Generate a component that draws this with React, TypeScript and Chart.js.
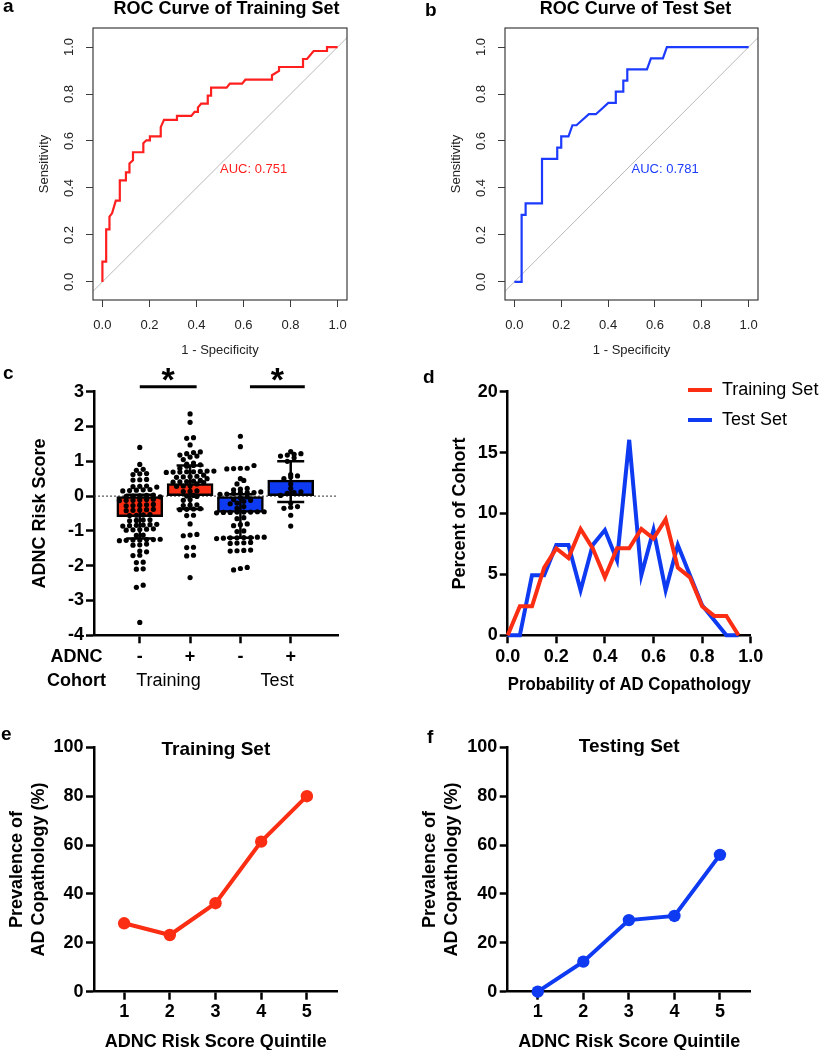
import React, { useEffect, useRef } from 'react';
import { Chart, registerables } from 'chart.js';

Chart.register(...registerables);

const FONT = "'Liberation Sans', Arial, Helvetica, sans-serif";
Chart.defaults.font.family = FONT;
Chart.defaults.color = '#000';

// ---------- colours ----------
const R_RED = '#ff1f1f';
const R_BLUE = '#1d3bff';
const P_RED = '#fb2d12';
const P_BLUE = '#0e3af2';
const R_GREY = '#3c3c3c';

// ---------- a / b : ROC curves ----------
const trainFpr = [0, 0, 0.016, 0.016, 0.03, 0.03, 0.041, 0.057, 0.074, 0.074, 0.1, 0.1, 0.115, 0.115, 0.13, 0.13, 0.174, 0.174, 0.187, 0.202, 0.202, 0.248, 0.248, 0.262, 0.317, 0.317, 0.378, 0.392, 0.406, 0.406, 0.42, 0.448, 0.448, 0.462, 0.462, 0.528, 0.542, 0.594, 0.608, 0.721, 0.721, 0.751, 0.751, 0.853, 0.853, 0.87, 0.898, 0.955, 0.955, 1.0];
const trainTpr = [0, 0.086, 0.086, 0.224, 0.224, 0.278, 0.292, 0.346, 0.346, 0.432, 0.432, 0.466, 0.466, 0.504, 0.518, 0.552, 0.552, 0.59, 0.603, 0.603, 0.62, 0.62, 0.659, 0.69, 0.69, 0.707, 0.707, 0.724, 0.724, 0.742, 0.759, 0.759, 0.793, 0.793, 0.827, 0.827, 0.844, 0.844, 0.861, 0.861, 0.88, 0.898, 0.915, 0.915, 0.949, 0.949, 0.983, 0.983, 1.0, 1.0];
const testFpr = [0, 0.031, 0.031, 0.048, 0.048, 0.118, 0.118, 0.183, 0.183, 0.2, 0.2, 0.231, 0.248, 0.265, 0.318, 0.348, 0.401, 0.433, 0.433, 0.465, 0.465, 0.482, 0.482, 0.566, 0.583, 0.634, 0.651, 1.0];
const testTpr = [0, 0, 0.285, 0.285, 0.334, 0.334, 0.524, 0.524, 0.572, 0.572, 0.62, 0.62, 0.667, 0.667, 0.714, 0.714, 0.762, 0.762, 0.81, 0.81, 0.857, 0.857, 0.905, 0.905, 0.952, 0.952, 1.0, 1.0];
const chanceLine = [-0.2, 1.2];
const rocTicks = [0, 0.2, 0.4, 0.6, 0.8, 1.0];
const aucTrain = '0.751';
const aucTest = '0.781';

// ---------- c : risk score by group ----------
const adncLabels = ['-', '+', '-', '+'];
const cohortNames = ['Training', 'Test'];
const groupMeans = [-0.59, 0.36, -0.47, 0.46];
const groupSdLow = [-1.22, -0.37, -1.2, -0.17];
const groupSdHigh = [0.04, 0.88, 0.05, 1.0];
const trainNeg = [1.4, 0.91, 0.77, 0.74, 0.65, 0.62, 0.64, 0.48, 0.46, 0.47, 0.28, 0.26, 0.27, 0.29, 0.17, 0.16, 0.18, 0.15, 0.19, 0.02, 0.0, 0.01, -0.02, 0.03, -0.01, -0.1, -0.12, -0.11, -0.13, -0.09, -0.12, -0.26, -0.25, -0.27, -0.24, -0.28, -0.4, -0.41, -0.39, -0.42, -0.38, -0.55, -0.54, -0.56, -0.53, -0.69, -0.7, -0.68, -0.71, -0.83, -0.84, -0.82, -0.85, -0.81, -0.86, -0.96, -0.97, -0.95, -0.98, -0.94, -1.13, -1.12, -1.25, -1.26, -1.27, -1.24, -1.28, -1.25, -1.26, -1.38, -1.4, -1.41, -1.58, -1.6, -1.7, -1.71, -1.9, -1.91, -2.1, -2.09, -2.56, -2.62, -3.63];
const trainPos = [2.36, 2.12, 1.68, 1.66, 1.47, 1.27, 1.25, 1.22, 1.18, 1.15, 1.12, 1.05, 0.95, 0.92, 0.9, 0.88, 0.86, 0.8, 0.72, 0.71, 0.7, 0.69, 0.68, 0.7, 0.72, 0.69, 0.6, 0.57, 0.55, 0.56, 0.54, 0.5, 0.45, 0.42, 0.41, 0.4, 0.43, 0.39, 0.35, 0.3, 0.28, 0.29, 0.15, 0.13, 0.14, 0.02, 0.0, -0.01, -0.12, -0.1, -0.25, -0.27, -0.26, -0.38, -0.37, -0.36, -0.39, -0.55, -0.56, -0.8, -1.1, -1.12, -1.14, -1.47, -1.48, -1.7, -1.72, -2.34];
const testNeg = [1.72, 1.42, 0.88, 0.8, 0.79, 0.78, 0.8, 0.5, 0.45, 0.35, 0.2, 0.18, 0.22, 0.1, 0.1, 0.08, 0.12, 0.05, 0.06, 0.1, -0.02, -0.05, -0.1, -0.12, -0.15, -0.2, -0.22, -0.3, -0.35, -0.45, -0.46, -0.47, -0.46, -0.45, -0.47, -0.48, -0.46, -0.62, -0.65, -0.82, -0.85, -0.8, -1.0, -1.02, -1.18, -1.2, -1.19, -1.21, -1.2, -1.18, -1.22, -1.19, -1.35, -1.33, -1.36, -1.34, -1.56, -1.55, -1.57, -1.58, -2.05, -2.08, -2.12];
const testPos = [1.28, 1.22, 1.18, 1.15, 1.2, 1.1, 1.0, 0.62, 0.58, 0.55, 0.5, 0.35, 0.22, 0.12, 0.1, 0.08, 0.02, -0.2, -0.3, -0.32, -0.35, -0.55, -0.86];
const riskTicks = [-4, -3, -2, -1, 0, 1, 2, 3];
const sigPairs = [[1.0, 2.13], [3.19, 4.28]];
const sigLevel = 3.14;
const cohortPos = [1.57, 3.73];

// ---------- d : probability distribution ----------
const probBins = [0, 0.05, 0.1, 0.15, 0.2, 0.25, 0.3, 0.35, 0.4, 0.45, 0.5, 0.55, 0.6, 0.65, 0.7, 0.75, 0.8, 0.85, 0.9, 0.95];
const trainPct = [0, 2.38, 2.38, 5.56, 7.14, 6.35, 8.73, 7.14, 4.76, 7.14, 7.14, 8.73, 7.94, 9.52, 5.56, 4.76, 2.38, 1.59, 1.59, 0];
const testPct = [0, 0, 4.94, 4.94, 7.41, 7.41, 3.7, 7.41, 8.64, 6.17, 16.05, 4.94, 8.64, 3.7, 7.41, 4.94, 2.47, 1.23, 0, 0];
const probTicks = [0, 0.2, 0.4, 0.6, 0.8, 1.0];
const pctTicks = [0, 5, 10, 15, 20];

// ---------- e / f : prevalence by quintile ----------
const quintiles = [1, 2, 3, 4, 5];
const trainPrev = [28, 23.2, 36.2, 61.4, 80];
const testPrev = [0, 12.3, 29.3, 31, 56];
const prevTicks = [0, 20, 40, 60, 80, 100];

// ---------- layout ----------
type Area = { left: number; top: number; right: number; bottom: number };
type Panel = { x: number; y: number; w: number; h: number; area: Area };

const panels: Panel[] = [
  { x: 0, y: 0, w: 410, h: 360, area: { left: 93, top: 28, right: 347, bottom: 300 } },
  { x: 410, y: 0, w: 410, h: 360, area: { left: 95, top: 28, right: 348, bottom: 300 } },
  { x: 0, y: 340, w: 410, h: 360, area: { left: 94, top: 51.7, right: 338, bottom: 295.3 } },
  { x: 410, y: 340, w: 410, h: 360, area: { left: 97.7, top: 51.7, right: 340.7, bottom: 295.3 } },
  { x: 0, y: 690, w: 410, h: 365, area: { left: 94, top: 57.3, right: 337.7, bottom: 301.7 } },
  { x: 410, y: 690, w: 410, h: 365, area: { left: 97.7, top: 57.3, right: 340.7, bottom: 301.7 } },
];

const bold = (px: number) => `bold ${px}px ${FONT}`;
const plain = (px: number) => `${px}px ${FONT}`;

function drawText(ctx: CanvasRenderingContext2D, s: string, x: number, y: number, font: string,
  color = '#000', align: CanvasTextAlign = 'left', baseline: CanvasTextBaseline = 'alphabetic') {
  ctx.save();
  ctx.font = font;
  ctx.fillStyle = color;
  ctx.textAlign = align;
  ctx.textBaseline = baseline;
  ctx.fillText(s, x, y);
  ctx.restore();
}

const setTicks = (vals: number[]) => (s: any) => { s.ticks = vals.map((value) => ({ value })); };
const fixWidth = (w: number) => (s: any) => {
  s.width = w; s.paddingLeft = 0; s.paddingRight = 0; s.paddingTop = 0; s.paddingBottom = 0;
};
const fixHeight = (h: number) => (s: any) => {
  s.height = h; s.paddingLeft = 0; s.paddingRight = 0; s.paddingTop = 0; s.paddingBottom = 0;
};

function baseOptions(p: Panel) {
  return {
    responsive: false,
    animation: false,
    devicePixelRatio: 1,
    events: [],
    layout: { padding: { left: 0, top: p.area.top, right: p.w - p.area.right, bottom: 0 } },
    plugins: { legend: { display: false }, tooltip: { enabled: false }, title: { display: false } },
  };
}

function pts(xs: number[], ys: number[]) {
  return xs.map((x, i) => ({ x, y: ys[i] }));
}

function swarm(values: number[], center: number, rowTol: number, colStep: number) {
  const sorted = [...values].sort((a, b) => a - b);
  const rows: number[][] = [];
  for (const v of sorted) {
    const cur = rows[rows.length - 1];
    if (cur && v - cur[0] < rowTol) cur.push(v);
    else rows.push([v]);
  }
  const out: { x: number; y: number }[] = [];
  rows.forEach((row) => row.forEach((v, i) => out.push({ x: center + (i - (row.length - 1) / 2) * colStep, y: v })));
  return out;
}

// ---------- a / b ----------
function rocConfig(p: Panel, fpr: number[], tpr: number[], color: string, title: string, auc: string,
  letter: string, letterX: number, letterY: number, titleX: number, yTitlePad: number) {
  const tickStyle = { display: true, drawOnChartArea: false, drawTicks: true, tickLength: 7, tickWidth: 1, tickColor: R_GREY };
  return {
    type: 'line',
    data: {
      datasets: [
        { data: pts(chanceLine, chanceLine), borderColor: '#b9b9b9', borderWidth: 1, pointRadius: 0, order: 2 },
        { data: pts(fpr, tpr), borderColor: color, borderWidth: 2.2, pointRadius: 0, tension: 0, order: 1 },
      ],
    },
    options: {
      ...baseOptions(p),
      scales: {
        x: {
          type: 'linear', min: -0.04, max: 1.04,
          afterBuildTicks: setTicks(rocTicks), afterFit: fixHeight(p.h - p.area.bottom),
          grid: tickStyle, border: { display: false },
          ticks: { font: { size: 13 }, color: '#222', padding: 10.5, autoSkip: false, maxRotation: 0, callback: (v: any) => Number(v).toFixed(1) },
          title: { display: true, text: '1 - Specificity', font: { size: 13 }, color: '#222', padding: { top: 0, bottom: 2.2 } },
        },
        y: {
          type: 'linear', min: -0.077, max: 1.081,
          afterBuildTicks: setTicks(rocTicks), afterFit: fixWidth(p.area.left),
          grid: tickStyle, border: { display: false },
          ticks: { font: { size: 13 }, color: '#222', padding: 8, minRotation: 90, maxRotation: 90, crossAlign: 'center', autoSkip: false, callback: (v: any) => Number(v).toFixed(1) },
          title: { display: true, text: 'Sensitivity', font: { size: 13 }, color: '#222', padding: { top: yTitlePad, bottom: 0 } },
        },
      },
    },
    plugins: [{
      id: 'rocDecor',
      afterDraw(chart: any) {
        const { ctx, chartArea: a, scales } = chart;
        ctx.save();
        ctx.strokeStyle = R_GREY;
        ctx.lineWidth = 1.2;
        ctx.strokeRect(a.left, a.top, a.right - a.left, a.bottom - a.top);
        ctx.restore();
        drawText(ctx, title, titleX, 9, bold(18), '#000', 'center', 'middle');
        drawText(ctx, letter, letterX, letterY, bold(19));
        drawText(ctx, 'AUC: ' + auc, scales.x.getPixelForValue(0.5), scales.y.getPixelForValue(0.477), plain(13), color, 'left', 'middle');
      },
    }],
  };
}

// ---------- c ----------
function groupConfig(p: Panel) {
  const xMin = 0.09, xMax = 4.94;
  const pxPerX = (p.area.right - p.area.left) / (xMax - xMin);
  const pxPerY = (p.area.bottom - p.area.top) / 7;
  const colStep = 6.8 / pxPerX;
  const rowTol = 4 / pxPerY;
  const groups = [trainNeg, trainPos, testNeg, testPos];
  const dots = groups.flatMap((g, i) => swarm(g, i + 1, rowTol, colStep));
  const axisGrid = { display: true, drawOnChartArea: false, drawTicks: true, tickLength: 8, tickWidth: 2.5, tickColor: '#000', offset: false };
  return {
    type: 'bar',
    data: {
      datasets: [
        {
          type: 'bar', data: pts([1, 2, 3, 4], groupMeans),
          backgroundColor: [P_RED, P_RED, P_BLUE, P_BLUE], borderColor: '#000', borderWidth: 2.5,
          borderSkipped: false, barThickness: 46, order: 3,
        },
        { type: 'scatter', data: dots, pointRadius: 2.6, pointBackgroundColor: '#000', pointBorderWidth: 0, order: 1, clip: false },
      ],
    },
    options: {
      ...baseOptions(p),
      scales: {
        x: {
          type: 'linear', min: xMin, max: xMax, offset: false,
          afterBuildTicks: setTicks([1, 2, 3, 4]), afterFit: fixHeight(p.h - p.area.bottom),
          grid: axisGrid, border: { display: true, width: 2.5, color: '#000' },
          ticks: { font: { size: 18, weight: 'bold' }, color: '#000', padding: 3, autoSkip: false, maxRotation: 0, callback: (v: any) => adncLabels[Math.round(v) - 1] },
        },
        y: {
          type: 'linear', min: -4, max: 3,
          afterBuildTicks: setTicks(riskTicks), afterFit: fixWidth(p.area.left),
          grid: axisGrid, border: { display: true, width: 2.5, color: '#000' },
          ticks: { font: { size: 18, weight: 'bold' }, color: '#000', padding: 2, autoSkip: false },
          title: { display: true, text: 'ADNC Risk Score', font: { size: 18, weight: 'bold' }, color: '#000', padding: { top: 29, bottom: 0 } },
        },
      },
    },
    plugins: [{
      id: 'groupDecor',
      beforeDatasetsDraw(chart: any) {
        const { ctx, chartArea: a, scales } = chart;
        const y0 = scales.y.getPixelForValue(0);
        ctx.save();
        ctx.strokeStyle = '#333';
        ctx.lineWidth = 1;
        ctx.setLineDash([2, 2]);
        ctx.beginPath();
        ctx.moveTo(a.left, y0);
        ctx.lineTo(a.right, y0);
        ctx.stroke();
        ctx.restore();
      },
      afterDatasetsDraw(chart: any) {
        const { ctx, scales } = chart;
        ctx.save();
        ctx.strokeStyle = '#000';
        ctx.lineWidth = 2.5;
        groupMeans.forEach((_, i) => {
          const x = scales.x.getPixelForValue(i + 1);
          const yl = scales.y.getPixelForValue(groupSdLow[i]);
          const yh = scales.y.getPixelForValue(groupSdHigh[i]);
          ctx.beginPath();
          ctx.moveTo(x, yl); ctx.lineTo(x, yh);
          ctx.moveTo(x - 13.5, yl); ctx.lineTo(x + 13.5, yl);
          ctx.moveTo(x - 13.5, yh); ctx.lineTo(x + 13.5, yh);
          ctx.stroke();
        });
        ctx.restore();
      },
      afterDraw(chart: any) {
        const { ctx, scales } = chart;
        const ys = scales.y.getPixelForValue(sigLevel);
        ctx.save();
        ctx.strokeStyle = '#000';
        ctx.lineWidth = 3;
        sigPairs.forEach(([x1, x2]) => {
          const px1 = scales.x.getPixelForValue(x1);
          const px2 = scales.x.getPixelForValue(x2);
          ctx.beginPath(); ctx.moveTo(px1, ys); ctx.lineTo(px2, ys); ctx.stroke();
          drawText(ctx, '*', (px1 + px2) / 2, ys + 4, bold(34), '#000', 'center', 'alphabetic');
        });
        ctx.restore();
        drawText(ctx, 'c', 3, 39, bold(19));
        drawText(ctx, 'ADNC', 76.5, 317, bold(18), '#000', 'center', 'middle');
        drawText(ctx, 'Cohort', 76.5, 341, bold(18), '#000', 'center', 'middle');
        cohortNames.forEach((n, i) => drawText(ctx, n, scales.x.getPixelForValue(cohortPos[i]), 341, plain(18), '#000', 'center', 'middle'));
      },
    }],
  };
}

// ---------- d ----------
function distConfig(p: Panel) {
  const axisGrid = { display: true, drawOnChartArea: false, drawTicks: true, tickLength: 8, tickWidth: 2.5, tickColor: '#000' };
  return {
    type: 'line',
    data: {
      datasets: [
        { label: 'Training Set', data: pts(probBins, trainPct), borderColor: P_RED, borderWidth: 4, pointRadius: 0, tension: 0, order: 0, clip: false },
        { label: 'Test Set', data: pts(probBins, testPct), borderColor: P_BLUE, borderWidth: 4, pointRadius: 0, tension: 0, order: 1, clip: false },
      ],
    },
    options: {
      ...baseOptions(p),
      scales: {
        x: {
          type: 'linear', min: 0, max: 1,
          afterBuildTicks: setTicks(probTicks), afterFit: fixHeight(p.h - p.area.bottom),
          grid: axisGrid, border: { display: true, width: 2.5, color: '#000' },
          ticks: { font: { size: 18, weight: 'bold' }, color: '#000', padding: 3, autoSkip: false, maxRotation: 0, callback: (v: any) => Number(v).toFixed(1) },
          title: { display: true, text: 'Probability of AD Copathology', font: { size: 18, weight: 'bold' }, color: '#000', padding: { top: 0, bottom: 4.2 } },
        },
        y: {
          type: 'linear', min: 0, max: 20,
          afterBuildTicks: setTicks(pctTicks), afterFit: fixWidth(p.area.left),
          grid: axisGrid, border: { display: true, width: 2.5, color: '#000' },
          ticks: { font: { size: 18, weight: 'bold' }, color: '#000', padding: 2, autoSkip: false },
          title: { display: true, text: 'Percent of Cohort', font: { size: 18, weight: 'bold' }, color: '#000', padding: { top: 39.7, bottom: 0 } },
        },
      },
    },
    plugins: [{
      id: 'distDecor',
      afterDraw(chart: any) {
        const { ctx } = chart;
        drawText(ctx, 'd', 13, 43, bold(19));
        const items = chart.data.datasets;
        items.forEach((ds: any, i: number) => {
          const y = 50 + i * 30;
          ctx.save();
          ctx.strokeStyle = ds.borderColor;
          ctx.lineWidth = 4;
          ctx.beginPath(); ctx.moveTo(278, y); ctx.lineTo(302, y); ctx.stroke();
          ctx.restore();
          drawText(ctx, ds.label, 312, y, plain(18), '#000', 'left', 'middle');
        });
      },
    }],
  };
}

// ---------- e / f ----------
function prevConfig(p: Panel, values: number[], color: string, title: string, titleY: number,
  letter: string, letterX: number, letterY: number, yTitlePad: number) {
  const axisGrid = { display: true, drawOnChartArea: false, drawTicks: true, tickLength: 8, tickWidth: 2.5, tickColor: '#000' };
  return {
    type: 'line',
    data: {
      datasets: [{
        data: pts(quintiles, values), borderColor: color, borderWidth: 4, pointRadius: 6.2,
        pointBackgroundColor: color, pointBorderWidth: 0, tension: 0, clip: false,
      }],
    },
    options: {
      ...baseOptions(p),
      scales: {
        x: {
          type: 'linear', min: 0.34, max: 5.675,
          afterBuildTicks: setTicks(quintiles), afterFit: fixHeight(p.h - p.area.bottom),
          grid: axisGrid, border: { display: true, width: 2.5, color: '#000' },
          ticks: { font: { size: 18, weight: 'bold' }, color: '#000', padding: 1.5, autoSkip: false, maxRotation: 0 },
          title: { display: true, text: 'ADNC Risk Score Quintile', font: { size: 18, weight: 'bold' }, color: '#000', padding: { top: 0, bottom: 2.5 } },
        },
        y: {
          type: 'linear', min: 0, max: 100,
          afterBuildTicks: setTicks(prevTicks), afterFit: fixWidth(p.area.left),
          grid: axisGrid, border: { display: true, width: 2.5, color: '#000' },
          ticks: { font: { size: 18, weight: 'bold' }, color: '#000', padding: 2.5, autoSkip: false },
          title: { display: true, text: ['Prevalence of', 'AD Copathology (%)'], font: { size: 18, weight: 'bold' }, color: '#000', padding: { top: yTitlePad, bottom: 0 } },
        },
      },
    },
    plugins: [{
      id: 'prevDecor',
      afterDraw(chart: any) {
        const { ctx, chartArea: a } = chart;
        drawText(ctx, letter, letterX, letterY, bold(19));
        drawText(ctx, title, (a.left + a.right) / 2, titleY, bold(19), '#000', 'center', 'middle');
      },
    }],
  };
}

const configs: any[] = [
  rocConfig(panels[0], trainFpr, trainTpr, R_RED, 'ROC Curve of Training Set', aucTrain, 'a', 3, 12, 226.5, 36.2),
  rocConfig(panels[1], testFpr, testTpr, R_BLUE, 'ROC Curve of Test Set', aucTest, 'b', 15, 16, 225.5, 38.2),
  groupConfig(panels[2]),
  distConfig(panels[3]),
  prevConfig(panels[4], trainPrev, P_RED, 'Training Set', 60, 'e', 1, 50, 6.2),
  prevConfig(panels[5], testPrev, P_BLUE, 'Testing Set', 56.5, 'f', 17, 53, 9.2),
];

export default function App() {
  const refs = [useRef<HTMLCanvasElement>(null), useRef<HTMLCanvasElement>(null), useRef<HTMLCanvasElement>(null),
    useRef<HTMLCanvasElement>(null), useRef<HTMLCanvasElement>(null), useRef<HTMLCanvasElement>(null)];

  useEffect(() => {
    const charts = configs.map((cfg, i) => new Chart(refs[i].current as HTMLCanvasElement, cfg));
    return () => charts.forEach((c) => c.destroy());
  }, []);

  return (
    <div style={{ position: 'absolute', left: 0, top: 0, width: 820, height: 1050, overflow: 'hidden', background: '#fff' }}>
      {panels.map((p, i) => (
        <canvas
          key={i}
          ref={refs[i]}
          width={p.w}
          height={p.h}
          style={{ position: 'absolute', left: p.x, top: p.y, width: p.w, height: p.h }}
        />
      ))}
    </div>
  );
}
